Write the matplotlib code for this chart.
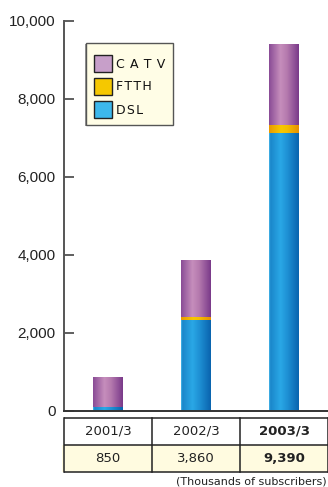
import numpy as np
import matplotlib
matplotlib.use("Agg")
import matplotlib.pyplot as plt
from matplotlib.patches import Rectangle
from matplotlib.colors import to_rgb

# Broadband subscribers by fiscal year end (thousands)
periods = ["2001/3", "2002/3", "2003/3"]
dsl = [100, 2330, 7130]
ftth = [0, 80, 205]
catv = [750, 1450, 2055]
totals = ["850", "3,860", "9,390"]
yticks = [0, 2000, 4000, 6000, 8000, 10000]
legend_labels = ["C \u200aA \u200aT \u200aV", "F\u200aT\u200aT\u200aH", "D\u200aS\u200aL"]
legend_colors = ["#c79fc9", "#f5c800", "#3cb8ec"]

W, H, DPI = 328, 487, 100
fig = plt.figure(figsize=(W / DPI, H / DPI), dpi=DPI)
fig.patch.set_facecolor("white")


def px_box(x0, y0, x1, y1):
    """Figure-fraction rectangle from pixel edges measured from the top-left."""
    return x0 / W, 1 - y1 / H, (x1 - x0) / W, (y1 - y0) / H


ax = fig.add_axes(px_box(64, 21, W, 411))
x = np.arange(len(periods))
bw = 0.34

grad_stops = {
    "dsl": [(0.0, "#48b8ea"), (0.04, "#1a86ca"), (0.38, "#2aa8e6"), (0.62, "#1e90d4"), (1.0, "#0a64ae")],
    "ftth": [(0.0, "#e99a00"), (0.4, "#f8c800"), (0.6, "#f5c000"), (1.0, "#e69000")],
    "catv": [(0.0, "#8a4c96"), (0.38, "#c68ebc"), (0.6, "#b57aae"), (1.0, "#7a3a8a")],
}


def gradient_row(stops, n=64):
    pos = [s[0] for s in stops]
    cols = np.array([to_rgb(s[1]) for s in stops])
    t = np.linspace(0, 1, n)
    img = np.stack([np.interp(t, pos, cols[:, k]) for k in range(3)], axis=-1)
    return img[np.newaxis, :, :]


# Stacked bars, each segment shaded with a horizontal cylinder gradient
bottom = np.zeros(len(periods))
for key, vals in [("dsl", dsl), ("ftth", ftth), ("catv", catv)]:
    bars = ax.bar(x, vals, bw, bottom=bottom, color="none", edgecolor="none", zorder=2)
    img = gradient_row(grad_stops[key])
    for p in bars.patches:
        if p.get_height() <= 0:
            continue
        x0, y0 = p.get_x(), p.get_y()
        ax.imshow(img, extent=[x0, x0 + p.get_width(), y0, y0 + p.get_height()],
                  aspect="auto", interpolation="bilinear", zorder=2)
    bottom += np.array(vals)

ax.set_xlim(-0.5, 2.5)
ax.set_ylim(0, 10000)
ax.set_aspect("auto")
ax.set_yticks(yticks)
ax.set_yticklabels([f"{v:,}" for v in yticks], fontsize=11, family="Liberation Sans", color="#222222")
ax.tick_params(axis="y", direction="in", length=7, width=1.2, color="#444444", pad=6)
ax.set_xticks([])
for s in ["top", "right"]:
    ax.spines[s].set_visible(False)
ax.spines["left"].set_color("#555555")
ax.spines["left"].set_linewidth(1.4)
ax.spines["bottom"].set_color("#333333")
ax.spines["bottom"].set_linewidth(1.4)

# Legend box
lax = fig.add_axes(px_box(0, 0, W, H), zorder=5)
lax.set_xlim(0, W)
lax.set_ylim(H, 0)
lax.axis("off")
lax.add_patch(Rectangle((84.5, 44), 88, 81.5, facecolor="#9a9a9a", edgecolor="none"))
lax.add_patch(Rectangle((85.5, 43), 87.5, 81.5, facecolor="#fffde6", edgecolor="#555555", linewidth=1.0))
for i, (lab, col) in enumerate(zip(legend_labels, legend_colors)):
    top = 55 + 23 * i
    lax.add_patch(Rectangle((93.5, top), 18.5, 17, facecolor=col, edgecolor="#222222", linewidth=1.0))
    lax.text(116, top + 9, lab, ha="left", va="center", fontsize=9,
             family="DejaVu Sans", color="#111111")

# Summary table under the axis
tax = fig.add_axes(px_box(64, 418, W, 472))
tax.set_xlim(-0.5, 2.5)
tax.set_ylim(0, 2)
tax.axis("off")
tax.add_patch(Rectangle((-0.52, 1), 3.2, 1, facecolor="white", edgecolor="none", clip_on=False))
tax.add_patch(Rectangle((-0.52, 0), 3.2, 1, facecolor="#fffbe0", edgecolor="none", clip_on=False))
for yy in [0, 1, 2]:
    tax.plot([-0.5, 2.7], [yy, yy], color="#222222", lw=1.1, clip_on=False, solid_capstyle="butt")
for xx in [-0.5, 0.5, 1.5, 2.5]:
    tax.plot([xx, xx], [0, 2], color="#222222", lw=1.1, clip_on=False)
for i, (p, t) in enumerate(zip(periods, totals)):
    bold = "bold" if i == len(periods) - 1 else "normal"
    tax.text(i, 1.5, p, ha="center", va="center", fontsize=9.5, family="DejaVu Sans",
             fontweight=bold, color="#222222")
    tax.text(i, 0.5, t, ha="center", va="center", fontsize=9.5, family="DejaVu Sans",
             fontweight=bold, color="#222222")

fig.text(327 / W, 1 - 481 / H, "(Thousands of subscribers)", ha="right", va="center",
         fontsize=8, family="DejaVu Sans", color="#222222")

fig.savefig("out.png", dpi=DPI)
